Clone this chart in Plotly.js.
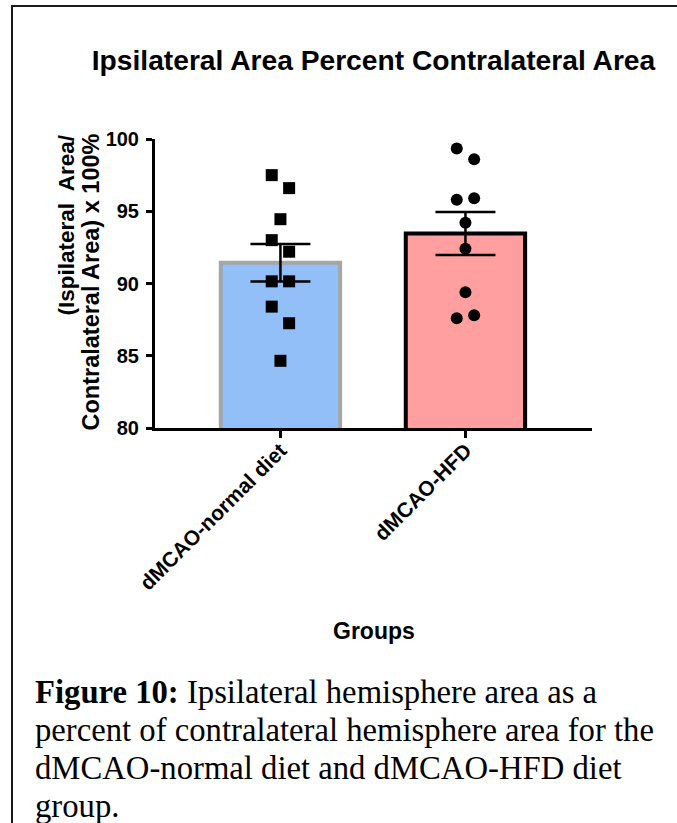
<!DOCTYPE html>
<html>
<head>
<meta charset="utf-8">
<script src="https://cdn.plot.ly/plotly-3.0.1.min.js"></script>
<style>
  html, body { margin: 0; padding: 0; background: #ffffff; }
  #chart { width: 677px; height: 823px; }
</style>
</head>
<body>
<div id="chart"></div>
<script>
// Group labels and group summary (mean ± SEM)
const groups = ["dMCAO-normal diet", "dMCAO-HFD"];
const groupMeans = [91.43, 93.46];
const groupSEM = [1.30, 1.49];

// Individual animals, % of contralateral area
const normalDiet = [97.5, 96.6, 94.45, 93.0, 92.2, 90.15, 90.15, 88.4, 87.25, 84.65];
const normalDietColumn = [-1, 1, 0, -1, 1, -1, 1, -1, 1, 0];
const hfdDiet = [99.35, 98.6, 95.8, 95.9, 94.2, 92.4, 89.4, 87.6, 87.8];
const hfdDietColumn = [-1, 1, -1, 1, 0, 0, 0, -1, 1];

const yTicks = [80, 85, 90, 95, 100];

// Plot-area geometry (pixels)
const W = 677, H = 823;
const M = { l: 155, r: 85, t: 139, b: 395 };
const PW = W - M.l - M.r, PH = H - M.t - M.b;
const px = x => (x - M.l) / PW;          // pixel x -> paper x
const py = y => (H - M.b - y) / PH;      // pixel y -> paper y

const spread = 0.047;
const BOLD = { family: "Arial, 'Liberation Sans', sans-serif", weight: "bold", color: "#000" };
const SERIF = "'Times New Roman', 'Liberation Serif', serif";

const bars = {
  type: "bar",
  x: [0, 1],
  y: groupMeans,
  width: 0.645,
  marker: {
    color: ["#93BFF8", "#FF9F9F"],
    line: { color: ["#A6A6A6", "#000000"], width: 4 }
  },
  error_y: { type: "data", array: groupSEM, visible: true, color: "#000", thickness: 2.5, width: 30 },
  hoverinfo: "skip",
  showlegend: false
};

const ptsNormal = {
  type: "scatter", mode: "markers",
  x: normalDietColumn.map(c => 0 + c * spread),
  y: normalDiet,
  marker: { symbol: "square", size: 12, color: "#000" },
  cliponaxis: false, showlegend: false
};

const ptsHfd = {
  type: "scatter", mode: "markers",
  x: hfdDietColumn.map(c => 1 + c * spread),
  y: hfdDiet,
  marker: { symbol: "circle", size: 12, color: "#000" },
  cliponaxis: false, showlegend: false
};

const captionLines = [
  "<b>Figure 10:</b> Ipsilateral hemisphere area as a",
  "percent of contralateral hemisphere area for the",
  "dMCAO-normal diet and dMCAO-HFD diet",
  "group."
];
const captionBaselines = [703, 741, 779, 817];

const annotations = [
  // y-axis title, two lines
  { text: "(Ispilateral  Area/", xref: "paper", yref: "paper", x: px(66), y: py(133),
    xanchor: "center", yanchor: "top", textangle: -90, showarrow: false,
    font: Object.assign({ size: 22.5 }, BOLD) },
  { text: "Contralateral Area) x 100%", xref: "paper", yref: "paper", x: px(90), y: py(132),
    xanchor: "center", yanchor: "top", textangle: -90, showarrow: false,
    font: Object.assign({ size: 23.5 }, BOLD) },
  // x-axis title
  { text: "Groups", xref: "paper", yref: "paper", x: 0.5, y: py(631),
    xanchor: "center", yanchor: "middle", showarrow: false,
    font: Object.assign({ size: 23 }, BOLD) }
].concat(captionLines.map((t, i) => ({
  text: t, xref: "paper", yref: "paper", x: px(33), y: py(captionBaselines[i] - 11),
  xanchor: "left", yanchor: "middle", showarrow: false,
  font: { family: SERIF, size: 32.7, color: "#000" }
})));

const frame = [
  { type: "line", xref: "paper", yref: "paper", x0: px(12), x1: px(12), y0: py(5), y1: py(H + 2),
    line: { color: "#1a1a1a", width: 2 } },
  { type: "line", xref: "paper", yref: "paper", x0: px(11), x1: px(W + 2), y0: py(6), y1: py(6),
    line: { color: "#1a1a1a", width: 2 } }
];

const layout = {
  width: W, height: H,
  margin: M,
  paper_bgcolor: "#fff", plot_bgcolor: "#fff",
  title: {
    text: "Ipsilateral Area Percent Contralateral Area",
    xref: "paper", x: 0.5, xanchor: "center",
    yref: "container", y: 1 - 60 / H, yanchor: "middle",
    font: Object.assign({ size: 28.2 }, BOLD)
  },
  xaxis: {
    range: [-0.678, 1.684],
    tickvals: [0, 1], ticktext: groups, tickangle: -45,
    showline: true, linecolor: "#000", linewidth: 3,
    ticks: "outside", ticklen: 7, tickwidth: 3, tickcolor: "#000",
    showgrid: false, zeroline: false,
    tickfont: Object.assign({ size: 21 }, BOLD),
    ticklabelstandoff: -8,
    fixedrange: true
  },
  yaxis: {
    range: [80, 100],
    tickvals: yTicks,
    showline: true, linecolor: "#000", linewidth: 3,
    ticks: "outside", ticklen: 6, tickwidth: 3, tickcolor: "#000",
    showgrid: false, zeroline: false,
    tickfont: Object.assign({ size: 20 }, BOLD),
    ticklabelstandoff: 3,
    fixedrange: true
  },
  annotations: annotations,
  shapes: frame,
  showlegend: false
};

Plotly.newPlot("chart", [bars, ptsNormal, ptsHfd], layout, { displayModeBar: false, staticPlot: true });
</script>
</body>
</html>
